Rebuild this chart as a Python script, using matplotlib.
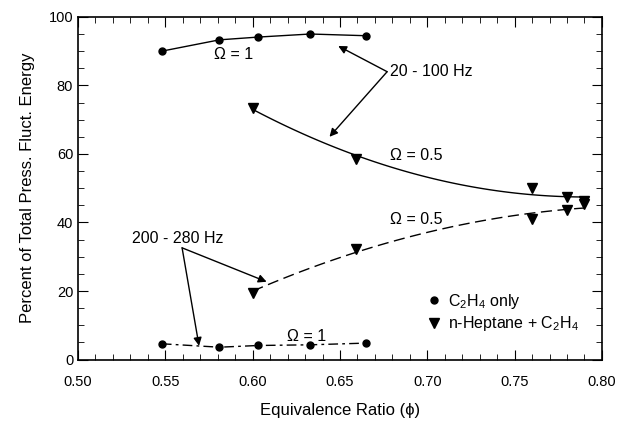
import numpy as np
import matplotlib.pyplot as plt
from matplotlib.ticker import MultipleLocator
from matplotlib.lines import Line2D

plt.rcParams['font.family'] = ['Liberation Sans', 'DejaVu Sans']
plt.rcParams['mathtext.fontset'] = 'custom'
plt.rcParams['mathtext.rm'] = 'Liberation Sans'
plt.rcParams['mathtext.it'] = 'Liberation Sans:italic'

# C2H4 only
phi_c2h4 = [0.548, 0.581, 0.603, 0.633, 0.665]
c2h4_low = [90.0, 93.3, 94.1, 95.0, 94.5]     # 20 - 100 Hz, Omega = 1
c2h4_high = [4.6, 3.6, 4.1, 4.3, 4.8]        # 200 - 280 Hz, Omega = 1

# n-Heptane + C2H4
phi_hep = [0.600, 0.659, 0.760, 0.780, 0.790]
hep_low = [73.5, 58.5, 50.0, 47.3, 46.4]     # 20 - 100 Hz, Omega = 0.5
hep_high = [19.5, 32.3, 41.1, 43.7, 45.4]    # 200 - 280 Hz, Omega = 0.5

fig = plt.figure(figsize=(6.29, 4.22), dpi=100)
ax = fig.add_axes([0.124, 0.148, 0.833, 0.812])

# C2H4 curves
ax.plot(phi_c2h4, c2h4_low, '-', color='black', lw=1.0)
ax.plot(phi_c2h4, c2h4_low, 'o', color='black', ms=5)
ax.plot(phi_c2h4, c2h4_high, color='black', lw=1.0, dashes=(7, 3, 2, 3))
ax.plot(phi_c2h4, c2h4_high, 'o', color='black', ms=5)

# heptane curves: smooth quadratic fits
xs = np.linspace(min(phi_hep), max(phi_hep), 100)
fit_low = np.polyval(np.polyfit(phi_hep, hep_low, 2), xs)
fit_high = np.polyval(np.polyfit(phi_hep, hep_high, 2), xs)
ax.plot(xs, fit_low, '-', color='black', lw=1.0)
ax.plot(xs, fit_high, color='black', lw=1.0, dashes=(8, 4))
ax.plot(phi_hep, hep_low, 'v', color='black', ms=7)
ax.plot(phi_hep, hep_high, 'v', color='black', ms=7)

# labels on curves
fs = 11.5
ax.text(0.589, 89, 'Ω = 1', ha='center', va='center', fontsize=fs)
ax.text(0.631, 6.8, 'Ω = 1', ha='center', va='center', fontsize=fs)
ax.text(0.6785, 59.5, 'Ω = 0.5', ha='left', va='center', fontsize=fs)
ax.text(0.6785, 41, 'Ω = 0.5', ha='left', va='center', fontsize=fs)

# frequency band callouts
arrow = dict(arrowstyle='-|>', color='black', lw=1.0, shrinkA=0, shrinkB=0,
             mutation_scale=12)
ax.text(0.6785, 84, '20 - 100 Hz', ha='left', va='center', fontsize=fs)
ax.annotate('', xy=(0.649, 91.5), xytext=(0.677, 84), arrowprops=arrow)
ax.annotate('', xy=(0.644, 65), xytext=(0.677, 84), arrowprops=arrow)

ax.text(0.557, 35.4, '200 - 280 Hz', ha='center', va='center', fontsize=fs)
ax.annotate('', xy=(0.608, 22.7), xytext=(0.5596, 32.6), arrowprops=arrow)
ax.annotate('', xy=(0.5693, 4.0), xytext=(0.5596, 32.6), arrowprops=arrow)

# legend
handles = [Line2D([], [], ls='none', marker='o', color='black', ms=5),
           Line2D([], [], ls='none', marker='v', color='black', ms=7)]
ax.legend(handles, ['C$_2$H$_4$ only', 'n-Heptane + C$_2$H$_4$'],
          loc='lower left', bbox_to_anchor=(0.64, 0.035), frameon=False,
          handlelength=0.8, handletextpad=0.5, labelspacing=0.2, fontsize=fs)

ax.set_xlim(0.50, 0.80)
ax.set_ylim(0, 100)
ax.xaxis.set_major_locator(MultipleLocator(0.05))
ax.xaxis.set_minor_locator(MultipleLocator(0.01))
ax.yaxis.set_major_locator(MultipleLocator(20))
ax.yaxis.set_minor_locator(MultipleLocator(5))
ax.xaxis.set_major_formatter(plt.FormatStrFormatter('%.2f'))
ax.tick_params(which='both', direction='in', top=True, right=True, labelsize=10.5)
ax.tick_params(axis='x', which='major', pad=11)
ax.tick_params(which='major', length=7)
ax.tick_params(which='minor', length=4)
for s in ax.spines.values():
    s.set_linewidth(1.2)

ax.set_xlabel('Equivalence Ratio (ϕ)', fontsize=12, labelpad=10)
ax.set_ylabel('Percent of Total Press. Fluct. Energy', fontsize=12, labelpad=10)

fig.savefig('out.png', dpi=100)
